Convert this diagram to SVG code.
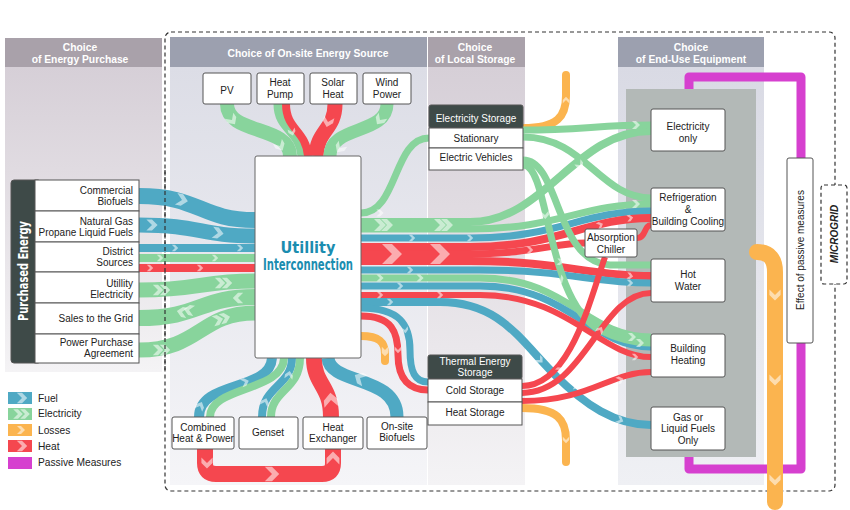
<svg xmlns="http://www.w3.org/2000/svg" width="850" height="510" viewBox="0 0 850 510">
<defs>
<linearGradient id="gMauve" x1="0" y1="0" x2="0" y2="1"><stop offset="0" stop-color="#d6cfd7"/><stop offset="1" stop-color="#f4f3f5"/></linearGradient>
<linearGradient id="gBlue" x1="0" y1="0" x2="0" y2="1"><stop offset="0" stop-color="#dcdde6"/><stop offset="1" stop-color="#f5f5f8"/></linearGradient>
<linearGradient id="gEnd" x1="0" y1="0" x2="0" y2="1"><stop offset="0" stop-color="#d9dae4"/><stop offset="1" stop-color="#eff0f4"/></linearGradient>
<path id="ch" d="M-4,-4 L0,-4 L4,0 L0,4 L-4,4 L0,0 Z"/>
</defs>
<style>
.band{fill:none;stroke-linecap:butt}
.fuel{stroke:#4fa9c4}
.elec{stroke:#88d49c}
.heat{stroke:#f5474f}
.loss{stroke:#fbb44f;stroke-linecap:round}
.pas{stroke:#d640cf;stroke-linejoin:round}
.box{fill:#fff;stroke:#555;stroke-width:1}
.dark{fill:#3e4a48;stroke:#555;stroke-width:1}
.t{font-family:"Liberation Sans",Arial,sans-serif;font-size:10px;fill:#222;text-anchor:middle}
.tr{text-anchor:end}
.tl{text-anchor:start;font-size:10.2px}
.h{font-family:"Liberation Sans",Arial,sans-serif;font-size:10.3px;font-weight:bold;fill:#fff;text-anchor:middle}
.w{fill:#fff}
.cv{fill:#fff;fill-opacity:0.55}
</style>
<rect width="850" height="510" fill="#fff"/>
<!-- panels -->
<g id="panels">
<rect x="5" y="67" width="157" height="305" fill="url(#gMauve)"/>
<rect x="5" y="38" width="157" height="29" fill="#a9a1aa"/>
<rect x="170" y="67" width="257" height="418" fill="url(#gBlue)"/>
<rect x="170" y="37" width="257" height="30" fill="#9ca0af"/>
<rect x="428" y="67" width="97" height="418" fill="url(#gMauve)"/>
<rect x="428" y="37" width="97" height="30" fill="#a9a1aa"/>
<rect x="618" y="67" width="146" height="418" fill="url(#gEnd)"/>
<rect x="618" y="37" width="146" height="30" fill="#9ca0af"/>
<rect x="626" y="89" width="130" height="368" fill="#b3b9b7"/>
<text class="h" x="80" y="51">Choice</text>
<text class="h" x="80" y="63">of Energy Purchase</text>
<text class="h" x="308" y="57">Choice of On-site Energy Source</text>
<text class="h" x="475" y="51">Choice</text>
<text class="h" x="475" y="63">of Local Storage</text>
<text class="h" x="691" y="51">Choice</text>
<text class="h" x="691" y="63">of End-Use Equipment</text>
</g>
<rect x="165" y="32" width="670" height="459" rx="6" fill="none" stroke="#333" stroke-width="1.2" stroke-dasharray="4,3"/>
<!-- connectors -->
<g id="connectors">
<!-- passive measures -->
<path class="band pas" stroke-width="9" d="M689,89 L689,77 L801,77 L801,158"/>
<path class="band pas" stroke-width="9" d="M801,343 L801,469 L689,469 L689,457"/>
<!-- losses -->
<path class="band loss" stroke-width="16" d="M757,252 C770,252 775,260 775,272 L775,502"/>
<path class="band loss" stroke-width="8" d="M523,128 C558,128 566,116 566,96 L566,75"/>
<path class="band loss" stroke-width="8" d="M522,408 C558,408 566,420 566,440 L566,462"/>
<path class="band loss" stroke-width="8" d="M361,336 C379,336 385,342 385,354 L385,361"/>
<!-- left purchased -->
<path class="band fuel" stroke-width="16" d="M139,196 C200,196 200,220 255,220"/>
<path class="band fuel" stroke-width="15" d="M139,225 C200,225 200,236 255,236"/>
<path class="band fuel" stroke-width="8" d="M139,248 L255,248"/>
<path class="band elec" stroke-width="8" d="M139,258 L255,258"/>
<path class="band heat" stroke-width="8" d="M139,268 L255,268"/>
<path class="band elec" stroke-width="15" d="M139,290 C200,290 200,281 255,281"/>
<path class="band elec" stroke-width="16" d="M139,318 C200,318 200,297 255,297"/>
<path class="band elec" stroke-width="15" d="M139,350 C200,350 200,313 255,313"/>
<!-- top sources -->
<path class="band elec" stroke-width="14" d="M227,104 C227,135 290,125 290,156"/>
<path class="band elec" stroke-width="9" d="M278,104 C278,130 300,130 302,156"/>
<path class="band heat" stroke-width="8" d="M286,104 C286,130 306,130 308,156"/>
<path class="band heat" stroke-width="15" d="M335,104 C335,130 317,130 316,156"/>
<path class="band elec" stroke-width="13" d="M387,104 C387,135 330,125 330,156"/>
<!-- bottom sources -->
<path class="band heat" stroke-width="16" d="M205,449 L205,463 Q205,474 216,474 L322,474 Q333,474 333,463 L333,449"/>
<path class="band fuel" stroke-width="10" d="M199,417 C199,380 270,392 272,358"/>
<path class="band elec" stroke-width="8" d="M210,417 C210,386 283,392 284,358"/>
<path class="band fuel" stroke-width="8" d="M262,417 C262,386 292,386 292,358"/>
<path class="band elec" stroke-width="8" d="M271,417 C271,390 300,390 300,358"/>
<path class="band heat" stroke-width="16" d="M331,417 C331,385 314,385 314,358"/>
<path class="band fuel" stroke-width="13" d="M397,417 C397,375 330,385 328,358"/>
<!-- utility to right -->
<path class="band elec" stroke-width="7" d="M361,213 C398,213 393,138 429,138"/>
<path class="band elec" stroke-width="8" d="M361,222 L470,222 C545,222 575,131 651,131"/>
<path class="band elec" stroke-width="7" d="M361,229 L470,229 C560,229 580,204 651,204"/>
<path class="band fuel" stroke-width="7" d="M361,238 L470,238 C560,238 580,211 651,211"/>
<path class="band heat" stroke-width="8" d="M361,247 L470,247 C560,247 585,218 651,218"/>
<path class="band heat" stroke-width="7" d="M361,254 L470,254 C530,254 555,243 585,243"/>
<path class="band heat" stroke-width="8" d="M361,261 L470,261 C560,261 590,276 651,276"/>
<path class="band fuel" stroke-width="7" d="M361,270 L480,270 C570,270 590,283 651,283"/>
<path class="band elec" stroke-width="7" d="M361,278 L480,278 C570,278 585,337 651,337"/>
<path class="band fuel" stroke-width="7" d="M361,286 L480,286 C570,286 590,347 651,347"/>
<path class="band heat" stroke-width="6" d="M361,295 L480,295 C570,295 600,357 651,357"/>
<path class="band fuel" stroke-width="8" d="M361,302 L440,302 C500,302 520,340 555,375 C585,405 615,425 651,425"/>
<path class="band fuel" stroke-width="7" d="M361,308 C400,308 410,325 410,350 C410,372 415,382 428,382"/>
<path class="band heat" stroke-width="7" d="M361,316 C392,316 398,332 398,355 C398,380 410,390 428,390"/>
<!-- electricity storage outputs -->
<path class="band elec" stroke-width="7" d="M523,130 C580,130 600,125 651,125"/>
<path class="band elec" stroke-width="7" d="M523,137 C585,137 600,198 651,198"/>
<path class="band elec" stroke-width="7" d="M523,160 C560,160 555,262 610,265 L651,265"/>
<path class="band elec" stroke-width="7" d="M523,165 C550,165 545,300 600,330 C620,340 635,343 651,343"/>
<!-- thermal storage outputs -->
<path class="band heat" stroke-width="6" d="M522,386 C570,386 590,300 605,257"/>
<path class="band heat" stroke-width="6" d="M522,393 C585,393 600,293 651,293"/>
<path class="band heat" stroke-width="6" d="M522,401 C590,401 610,372 651,372"/>
<path class="band heat" stroke-width="6" d="M637,238 C646,238 644,225 651,225"/>
<!-- chevrons -->
<use href="#ch" class="cv" transform="translate(182,200) rotate(12) scale(1.5)"/>
<use href="#ch" class="cv" transform="translate(152,225) scale(1.4)"/>
<use href="#ch" class="cv" transform="translate(218,233) rotate(8) scale(1.4)"/>
<use href="#ch" class="cv" transform="translate(175,248) scale(0.8)"/>
<use href="#ch" class="cv" transform="translate(240,248) scale(0.8)"/>
<use href="#ch" class="cv" transform="translate(160,258) scale(0.8)"/>
<use href="#ch" class="cv" transform="translate(215,258) scale(0.8)"/>
<use href="#ch" class="cv" transform="translate(150,268) scale(0.8)"/>
<use href="#ch" class="cv" transform="translate(200,268) scale(0.8)"/>
<use href="#ch" class="cv" transform="translate(158,290) scale(1.3)"/>
<use href="#ch" class="cv" transform="translate(165,290) scale(1.3)"/>
<use href="#ch" class="cv" transform="translate(220,283) scale(1.3)"/>
<use href="#ch" class="cv" transform="translate(227,283) scale(1.3)"/>
<use href="#ch" class="cv" transform="translate(182,312) rotate(190) scale(1.3)"/>
<use href="#ch" class="cv" transform="translate(189,310) rotate(190) scale(1.3)"/>
<use href="#ch" class="cv" transform="translate(238,298) rotate(180) scale(1.3)"/>
<use href="#ch" class="cv" transform="translate(158,350) scale(1.3)"/>
<use href="#ch" class="cv" transform="translate(165,350) scale(1.3)"/>
<use href="#ch" class="cv" transform="translate(218,320) rotate(-15) scale(1.3)"/>
<use href="#ch" class="cv" transform="translate(225,318) rotate(-15) scale(1.3)"/>
<use href="#ch" class="cv" transform="translate(232,120) rotate(55) scale(1.3)"/>
<use href="#ch" class="cv" transform="translate(280,146) rotate(60) scale(1.3)"/>
<use href="#ch" class="cv" transform="translate(328,122) rotate(105) scale(1.3)"/>
<use href="#ch" class="cv" transform="translate(380,120) rotate(125) scale(1.3)"/>
<use href="#ch" class="cv" transform="translate(340,148) rotate(125) scale(1.3)"/>
<use href="#ch" class="cv" transform="translate(292,132) rotate(75) scale(0.9)"/>
<use href="#ch" class="cv" transform="translate(200,406) rotate(-65) scale(1.1)"/>
<use href="#ch" class="cv" transform="translate(245,382) rotate(-20) scale(1.0)"/>
<use href="#ch" class="cv" transform="translate(265,402) rotate(-70) scale(1.0)"/>
<use href="#ch" class="cv" transform="translate(289,375) rotate(-80) scale(1.0)"/>
<use href="#ch" class="cv" transform="translate(331,400) rotate(-95) scale(1.8)"/>
<use href="#ch" class="cv" transform="translate(360,378) rotate(-150) scale(1.5)"/>
<use href="#ch" class="cv" transform="translate(207,463) rotate(90) scale(1.4)"/>
<use href="#ch" class="cv" transform="translate(272,474) scale(1.8)"/>
<use href="#ch" class="cv" transform="translate(333,458) rotate(-90) scale(1.6)"/>
<use href="#ch" class="cv" transform="translate(392,254) scale(2.5)"/>
<use href="#ch" class="cv" transform="translate(440,254) scale(2.5)"/>
<use href="#ch" class="cv" transform="translate(380,225) scale(1.5)"/>
<use href="#ch" class="cv" transform="translate(387,225) scale(1.5)"/>
<use href="#ch" class="cv" transform="translate(440,225) scale(1.5)"/>
<use href="#ch" class="cv" transform="translate(447,225) scale(1.5)"/>
<use href="#ch" class="cv" transform="translate(380,213) scale(0.9)"/>
<use href="#ch" class="cv" transform="translate(412,238) scale(0.8)"/>
<use href="#ch" class="cv" transform="translate(470,238) scale(0.8)"/>
<use href="#ch" class="cv" transform="translate(410,270) scale(0.8)"/>
<use href="#ch" class="cv" transform="translate(380,278) scale(0.9)"/>
<use href="#ch" class="cv" transform="translate(420,278) scale(0.9)"/>
<use href="#ch" class="cv" transform="translate(400,286) scale(0.8)"/>
<use href="#ch" class="cv" transform="translate(380,295) scale(0.8)"/>
<use href="#ch" class="cv" transform="translate(440,295) scale(0.8)"/>
<use href="#ch" class="cv" transform="translate(390,302) scale(0.8)"/>
<use href="#ch" class="cv" transform="translate(405,330) rotate(80) scale(0.8)"/>
<use href="#ch" class="cv" transform="translate(398,350) rotate(90) scale(0.8)"/>
<use href="#ch" class="cv" transform="translate(385,350) rotate(90) scale(0.8)"/>
<use href="#ch" class="cv" transform="translate(530,250) scale(0.8)"/>
<use href="#ch" class="cv" transform="translate(560,262) rotate(10) scale(0.8)"/>
<use href="#ch" class="cv" transform="translate(600,225) rotate(-25) scale(0.8)"/>
<use href="#ch" class="cv" transform="translate(630,218) rotate(-10) scale(0.8)"/>
<use href="#ch" class="cv" transform="translate(630,276) rotate(10) scale(0.8)"/>
<use href="#ch" class="cv" transform="translate(630,283) scale(0.8)"/>
<use href="#ch" class="cv" transform="translate(636,204) scale(1.0)"/>
<use href="#ch" class="cv" transform="translate(636,125) scale(1.0)"/>
<use href="#ch" class="cv" transform="translate(640,343) scale(1.0)"/>
<use href="#ch" class="cv" transform="translate(632,337) scale(1.0)"/>
<use href="#ch" class="cv" transform="translate(635,357) scale(0.8)"/>
<use href="#ch" class="cv" transform="translate(620,420) rotate(25) scale(0.9)"/>
<use href="#ch" class="cv" transform="translate(540,360) rotate(45) scale(0.9)"/>
<use href="#ch" class="cv" transform="translate(545,150) rotate(10) scale(1.0)"/>
<use href="#ch" class="cv" transform="translate(580,165) rotate(50) scale(1.0)"/>
<use href="#ch" class="cv" transform="translate(545,215) rotate(85) scale(1.0)"/>
<use href="#ch" class="cv" transform="translate(560,280) rotate(60) scale(1.0)"/>
<use href="#ch" class="cv" transform="translate(560,370) rotate(-40) scale(0.9)"/>
<use href="#ch" class="cv" transform="translate(575,385) rotate(-20) scale(0.9)"/>
<use href="#ch" class="cv" transform="translate(600,330) rotate(-60) scale(0.9)"/>
<use href="#ch" class="cv" transform="translate(620,380) rotate(-20) scale(0.9)"/>
<use href="#ch" class="cv" transform="translate(566,100) rotate(-90) scale(0.8)"/>
<use href="#ch" class="cv" transform="translate(566,440) rotate(90) scale(0.8)"/>
<use href="#ch" class="cv" transform="translate(385,353) rotate(90) scale(0.8)"/>
<use href="#ch" class="cv" transform="translate(775,295) rotate(90) scale(1.4)"/>
<use href="#ch" class="cv" transform="translate(775,380) rotate(90) scale(1.4)"/>
<use href="#ch" class="cv" transform="translate(775,480) rotate(90) scale(1.4)"/>
</g>
<line x1="165" y1="170" x2="165" y2="372" stroke="#333" stroke-width="1.2" stroke-dasharray="4,3"/>
<!-- purchased energy -->
<g id="purchased">
<rect class="dark" x="11" y="180" width="30" height="183" rx="3"/>
<text x="23" y="271" transform="rotate(-90 23 271)" text-anchor="middle" dominant-baseline="central" font-family="'DejaVu Sans Condensed','DejaVu Sans',sans-serif" font-stretch="condensed" font-weight="bold" font-size="14" fill="#fff" textLength="100" lengthAdjust="spacingAndGlyphs">Purchased Energy</text>
</g>
<g id="commercial"><rect class="box" x="35" y="180" width="104" height="31"/><text class="t tr" x="133" y="194">Commercial</text><text class="t tr" x="133" y="205">Biofuels</text></g>
<g id="natgas"><rect class="box" x="35" y="211" width="104" height="31"/><text class="t tr" x="133" y="225">Natural Gas</text><text class="t tr" x="133" y="236">Propane Liquid Fuels</text></g>
<g id="district"><rect class="box" x="35" y="242" width="104" height="30"/><text class="t tr" x="133" y="255">District</text><text class="t tr" x="133" y="266">Sources</text></g>
<g id="utilelec"><rect class="box" x="35" y="272" width="104" height="31"/><text class="t tr" x="133" y="287">Utillity</text><text class="t tr" x="133" y="298">Electricity</text></g>
<g id="sales"><rect class="box" x="35" y="303" width="104" height="31"/><text class="t tr" x="133" y="322">Sales to the Grid</text></g>
<g id="ppa"><rect class="box" x="35" y="334" width="104" height="29"/><text class="t tr" x="133" y="346">Power Purchase</text><text class="t tr" x="133" y="357">Agreement</text></g>
<!-- top sources -->
<g id="pv"><rect class="box" x="203" y="73" width="48" height="31" rx="2"/><text class="t" x="227" y="94">PV</text></g>
<g id="heatpump"><rect class="box" x="257" y="73" width="47" height="31" rx="2"/><text class="t" x="280" y="86">Heat</text><text class="t" x="280" y="98">Pump</text></g>
<g id="solarheat"><rect class="box" x="310" y="73" width="47" height="31" rx="2"/><text class="t" x="333" y="86">Solar</text><text class="t" x="333" y="98">Heat</text></g>
<g id="wind"><rect class="box" x="363" y="73" width="48" height="31" rx="2"/><text class="t" x="387" y="86">Wind</text><text class="t" x="387" y="98">Power</text></g>
<!-- utility interconnection -->
<g id="utility"><rect x="255" y="156" width="106" height="202" rx="2" fill="#fff" stroke="#666" stroke-width="1"/>
<text x="308" y="253" text-anchor="middle" font-family="'DejaVu Sans Condensed','DejaVu Sans',sans-serif" font-stretch="condensed" font-weight="bold" font-size="15" fill="#1b8db0" textLength="55" lengthAdjust="spacingAndGlyphs">Utillity</text>
<text x="308" y="270" text-anchor="middle" font-family="'DejaVu Sans Condensed','DejaVu Sans',sans-serif" font-stretch="condensed" font-weight="bold" font-size="15" fill="#1b8db0" textLength="90" lengthAdjust="spacingAndGlyphs">Interconnection</text></g>
<!-- bottom sources -->
<g id="chp"><rect class="box" x="172" y="417" width="62" height="32" rx="2"/><text class="t" x="203" y="431">Combined</text><text class="t" x="203" y="442">Heat &amp; Power</text></g>
<g id="genset"><rect class="box" x="239" y="417" width="59" height="32" rx="2"/><text class="t" x="268" y="436">Genset</text></g>
<g id="hx"><rect class="box" x="303" y="417" width="60" height="32" rx="2"/><text class="t" x="333" y="431">Heat</text><text class="t" x="333" y="442">Exchanger</text></g>
<g id="biofuels"><rect class="box" x="367" y="417" width="60" height="32" rx="2"/><text class="t" x="397" y="430">On-site</text><text class="t" x="397" y="441">Biofuels</text></g>
<!-- storage -->
<g id="elecstorage"><rect class="dark" x="429" y="105" width="94" height="23" rx="2"/><text class="t" x="476" y="122" fill="#fff" style="fill:#fff">Electricity Storage</text></g>
<g id="stationary"><rect class="box" x="429" y="128" width="94" height="20"/><text class="t" x="476" y="142">Stationary</text></g>
<g id="ev"><rect class="box" x="429" y="148" width="94" height="22"/><text class="t" x="476" y="161">Electric Vehicles</text></g>
<g id="thermal"><rect class="dark" x="428" y="355" width="94" height="24" rx="2"/><text class="t" x="475" y="365" style="fill:#fff">Thermal Energy</text><text class="t" x="475" y="376" style="fill:#fff">Storage</text></g>
<g id="cold"><rect class="box" x="428" y="379" width="94" height="23"/><text class="t" x="475" y="394">Cold Storage</text></g>
<g id="heatst"><rect class="box" x="428" y="402" width="94" height="23"/><text class="t" x="475" y="416">Heat Storage</text></g>
<g id="chiller"><rect class="box" x="585" y="229" width="52" height="28" rx="2"/><text class="t" x="611" y="241">Absorption</text><text class="t" x="611" y="253">Chiller</text></g>
<!-- end use -->
<g id="eonly"><rect class="box" x="651" y="109" width="74" height="42" rx="2"/><text class="t" x="688" y="130">Electricity</text><text class="t" x="688" y="142">only</text></g>
<g id="refrig"><rect class="box" x="651" y="188" width="74" height="43" rx="2"/><text class="t" x="688" y="201">Refrigeration</text><text class="t" x="688" y="213">&amp;</text><text class="t" x="688" y="225">Building Cooling</text></g>
<g id="hotwater"><rect class="box" x="651" y="259" width="74" height="43" rx="2"/><text class="t" x="688" y="278">Hot</text><text class="t" x="688" y="290">Water</text></g>
<g id="heating"><rect class="box" x="651" y="334" width="74" height="43" rx="2"/><text class="t" x="688" y="352">Building</text><text class="t" x="688" y="364">Heating</text></g>
<g id="gas"><rect class="box" x="651" y="407" width="74" height="43" rx="2"/><text class="t" x="688" y="421">Gas or</text><text class="t" x="688" y="432">Liquid Fuels</text><text class="t" x="688" y="444">Only</text></g>
<g id="passive"><rect class="box" x="787" y="158" width="26" height="185" rx="2"/><text class="t" x="800" y="250" transform="rotate(-90 800 250)" dominant-baseline="central" font-size="10.5">Effect of passive measures</text></g>
<g id="microgrid"><rect x="821" y="185" width="26" height="99" rx="3" fill="#fff" stroke="#333" stroke-width="1.2" stroke-dasharray="4,3"/><text class="t" x="834" y="234" transform="rotate(-90 834 234)" dominant-baseline="central" font-weight="bold" font-style="italic">MICROGRID</text></g>
<!-- legend -->
<g id="legend">
<rect x="8" y="392" width="24" height="12" fill="#4fa9c4"/><use href="#ch" class="cv" transform="translate(22,398) scale(1.3)"/><text class="t tl" x="38" y="402">Fuel</text>
<rect x="8" y="408" width="24" height="12" fill="#88d49c"/><use href="#ch" class="cv" transform="translate(18,414) scale(1.2)"/><use href="#ch" class="cv" transform="translate(25,414) scale(1.2)"/><text class="t tl" x="38" y="417">Electricity</text>
<rect x="8" y="424" width="24" height="12" fill="#fbb44f"/><use href="#ch" class="cv" transform="translate(21,430) scale(1.0)"/><text class="t tl" x="38" y="434">Losses</text>
<rect x="8" y="440" width="24" height="12" fill="#f5474f"/><use href="#ch" class="cv" transform="translate(22,446) scale(1.3)"/><text class="t tl" x="38" y="450">Heat</text>
<rect x="8" y="457" width="24" height="12" fill="#d640cf"/><text class="t tl" x="38" y="466">Passive Measures</text>
</g>
</svg>
